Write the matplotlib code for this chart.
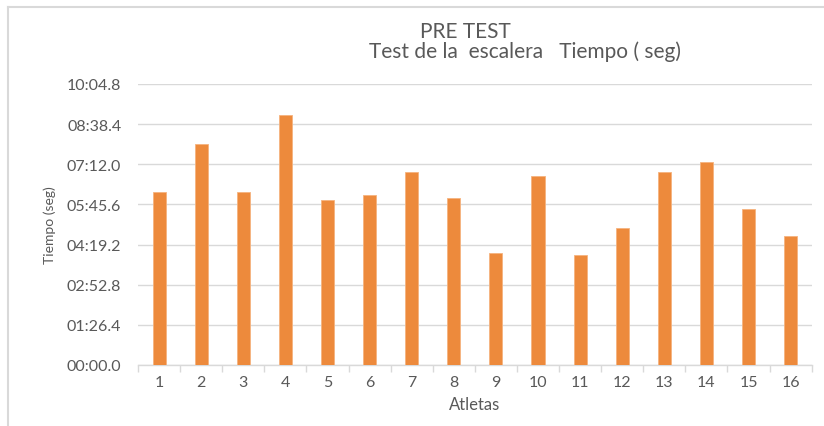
import matplotlib
matplotlib.use("Agg")
import matplotlib.pyplot as plt
import numpy as np
from matplotlib.lines import Line2D
from matplotlib.ticker import FixedLocator, FuncFormatter

atletas = [str(i) for i in range(1, 17)]
tiempos_seg = [372.3, 476.3, 372.3, 537.4, 355.1, 365.2, 414.7, 358.7,
               241.8, 406.1, 237.4, 294.1, 414.7, 436.2, 335.0, 278.4]
y_ticks = [0, 86.4, 172.8, 259.2, 345.6, 432.0, 518.4, 604.8]

title1 = "PRE TEST"
title2 = "Test de la  escalera   Tiempo ( seg)"
xlabel = "Atletas"
ylabel = "Tiempo (seg)"

gray = "#595959"
grid = "#D9D9D9"
bar_color = "#ED8A3C"

plt.rcParams['font.family'] = ['Lato', 'DejaVu Sans']

fig = plt.figure(figsize=(8.24, 4.27), dpi=100)
ax = fig.add_axes([138/824, 1-366/427, (811.7-138)/824, (366-85)/427])

x = np.arange(1, len(atletas) + 1)
ax.bar(x, tiempos_seg, width=0.31, color=bar_color, edgecolor="#F5B37E", linewidth=0.6, zorder=3)

ax.set_xlim(0.5, len(atletas) + 0.5)
ax.set_ylim(0, 604.8)
ax.yaxis.set_major_locator(FixedLocator(y_ticks))

def fmt(v, pos):
    t = round(v * 10)
    m = t // 600
    s = (t % 600) / 10
    return f"{int(m):02d}:{s:04.1f}"

ax.yaxis.set_major_formatter(FuncFormatter(fmt))
ax.set_xticks(x)
ax.set_xticklabels(atletas)
ax.set_xticks(np.arange(0.5, len(atletas) + 1.0, 1.0), minor=True)

ax.grid(axis='y', color=grid, linewidth=1.0, zorder=0)
for s in ['top', 'right', 'left']:
    ax.spines[s].set_visible(False)
ax.spines['bottom'].set_color(grid)
ax.spines['bottom'].set_linewidth(1.0)

ax.tick_params(axis='y', length=0, pad=12, labelsize=11.5, labelcolor=gray)
ax.tick_params(axis='x', which='major', length=0, pad=7, labelsize=11.5, labelcolor=gray)
ax.tick_params(axis='x', which='minor', length=5, color=grid, width=1.0)

ax.set_xlabel(xlabel, fontsize=12, color=gray, labelpad=5)
ax.set_ylabel(ylabel, fontsize=10, color=gray, labelpad=8)

fig.text(465/824, 1-38.5/427, title1, ha='center', va='baseline', fontsize=15, color=gray)
fig.text(525/824, 1-57.5/427, title2, ha='center', va='baseline', fontsize=15, color=gray)

fig.add_artist(Line2D([8/824, 8/824], [0, 1-8/427], transform=fig.transFigure, color="#D9D9D9", linewidth=1.5))
fig.add_artist(Line2D([8/824, 1], [1-8/427, 1-8/427], transform=fig.transFigure, color="#D9D9D9", linewidth=1.5))

fig.savefig("out.png", dpi=100)
